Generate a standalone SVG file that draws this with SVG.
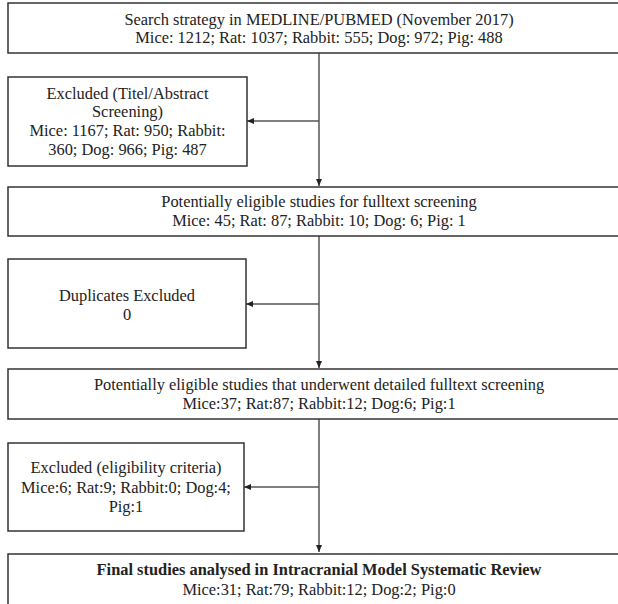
<svg xmlns="http://www.w3.org/2000/svg" width="618" height="604" viewBox="0 0 618 604">
<defs>
<style>
.box{fill:#fff;stroke:#333;stroke-width:1.5}
.t{font-family:"Liberation Serif","Times New Roman","DejaVu Serif",serif;font-size:16.4px;fill:#222;text-anchor:middle}
.b{font-weight:bold}
.c{stroke:#555;stroke-width:1.5;fill:none}
</style>
<marker id="ah" markerWidth="8" markerHeight="8" refX="7" refY="4" orient="auto" markerUnits="userSpaceOnUse">
<path d="M0,1 L7,4 L0,7 Z" fill="#222"/>
</marker>
</defs>
<rect width="618" height="604" fill="#fff"/>
<g id="connectors">
<line class="c" x1="319" y1="53" x2="319" y2="186" marker-end="url(#ah)"/>
<line class="c" x1="319" y1="121" x2="247" y2="121" marker-end="url(#ah)"/>
<line class="c" x1="319" y1="236" x2="319" y2="368" marker-end="url(#ah)"/>
<line class="c" x1="319" y1="304" x2="246" y2="304" marker-end="url(#ah)"/>
<line class="c" x1="319" y1="419" x2="319" y2="552" marker-end="url(#ah)"/>
<line class="c" x1="319" y1="487" x2="244" y2="487" marker-end="url(#ah)"/>
</g>
<g id="search">
<rect class="box" x="8" y="3" width="622" height="50"/>
<text class="t" x="319" y="25">Search strategy in MEDLINE/PUBMED (November 2017)</text>
<text class="t" x="319" y="43">Mice: 1212; Rat: 1037; Rabbit: 555; Dog: 972; Pig: 488</text>
</g>
<g id="excluded1">
<rect class="box" x="8" y="77" width="239" height="89"/>
<text class="t" x="127.5" y="99">Excluded (Titel/Abstract</text>
<text class="t" x="127.5" y="117">Screening)</text>
<text class="t" x="127.5" y="136">Mice: 1167; Rat: 950; Rabbit:</text>
<text class="t" x="127.5" y="155">360; Dog: 966; Pig: 487</text>
</g>
<g id="eligible1">
<rect class="box" x="8" y="187" width="622" height="49"/>
<text class="t" x="319" y="207">Potentially eligible studies for fulltext screening</text>
<text class="t" x="319" y="226">Mice: 45; Rat: 87; Rabbit: 10; Dog: 6; Pig: 1</text>
</g>
<g id="duplicates">
<rect class="box" x="8" y="259" width="238" height="89"/>
<text class="t" x="127" y="301">Duplicates Excluded</text>
<text class="t" x="127" y="320">0</text>
</g>
<g id="eligible2">
<rect class="box" x="8" y="369" width="622" height="50"/>
<text class="t" x="319" y="390">Potentially eligible studies that underwent detailed fulltext screening</text>
<text class="t" x="319" y="409">Mice:37; Rat:87; Rabbit:12; Dog:6; Pig:1</text>
</g>
<g id="excluded2">
<rect class="box" x="8" y="443" width="236" height="88"/>
<text class="t" x="126" y="473">Excluded (eligibility criteria)</text>
<text class="t" x="126" y="493">Mice:6; Rat:9; Rabbit:0; Dog:4;</text>
<text class="t" x="126" y="512">Pig:1</text>
</g>
<g id="final">
<rect class="box" x="8" y="554" width="622" height="60"/>
<text class="t b" x="319" y="575">Final studies analysed in Intracranial Model Systematic Review</text>
<text class="t" x="319" y="595">Mice:31; Rat:79; Rabbit:12; Dog:2; Pig:0</text>
</g>
</svg>
